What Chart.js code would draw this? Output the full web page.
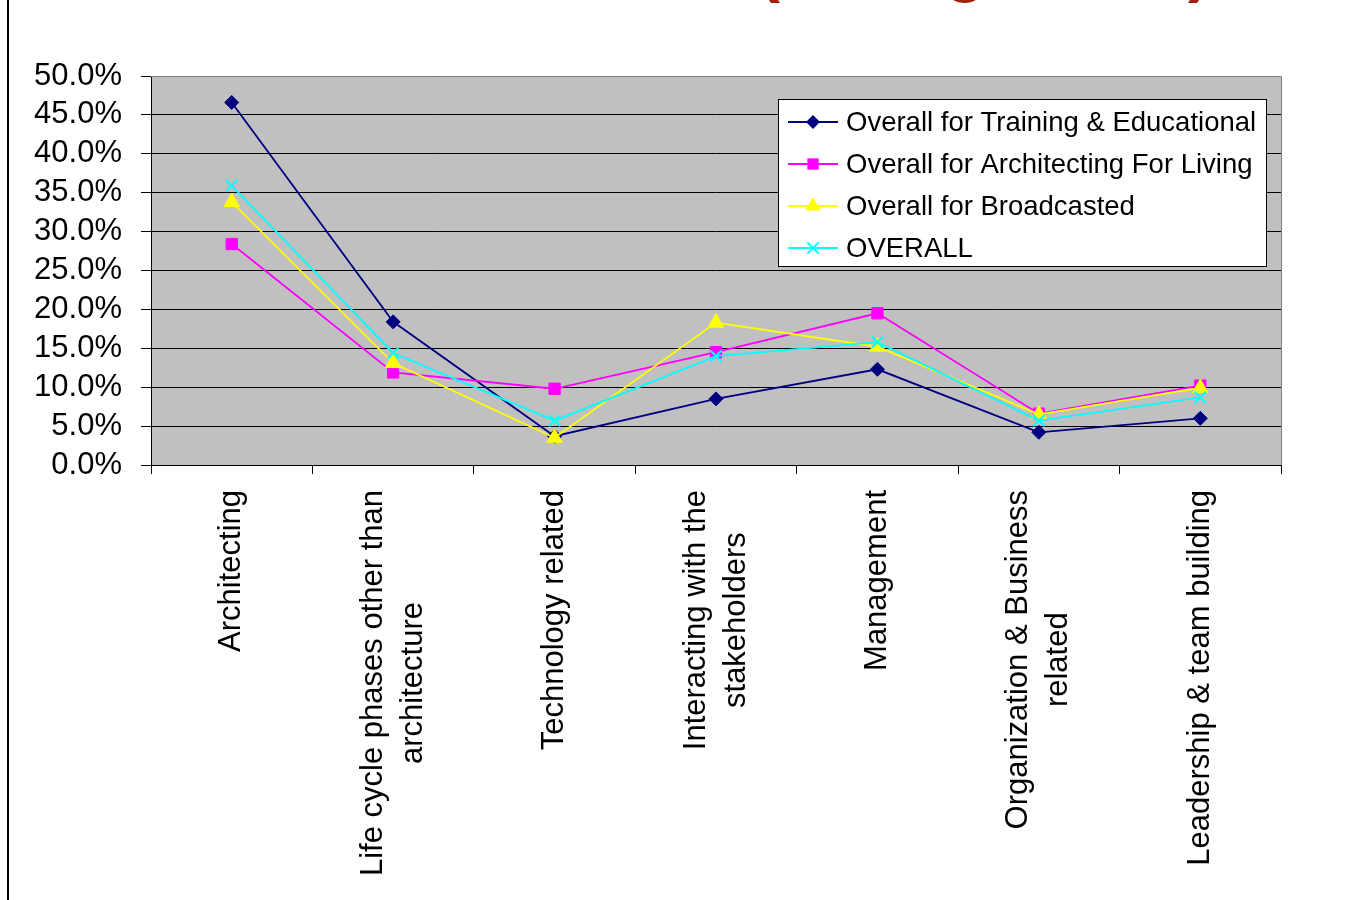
<!DOCTYPE html>
<html>
<head>
<meta charset="utf-8">
<title>Share of topics by programme</title>
<script src="https://cdn.jsdelivr.net/npm/chart.js@4/dist/chart.umd.min.js"></script>
<style>
  html, body { margin: 0; padding: 0; background: #ffffff; }
  #wrap { position: relative; width: 1365px; height: 900px; }
  canvas { display: block; }
</style>
</head>
<body>
<div id="wrap"><canvas id="chart" width="1365" height="900"></canvas></div>
<script>
// Category labels (each entry is a list of lines)
const categories = [
  ['Architecting'],
  ['Life cycle phases other than', 'architecture'],
  ['Technology related'],
  ['Interacting with the', 'stakeholders'],
  ['Management'],
  ['Organization & Business', 'related'],
  ['Leadership & team building']
];

// Series values, in percent
const trainingEducational = [46.6, 18.4, 3.7, 8.5, 12.3, 4.2, 6.0];
const architectingForLiving = [28.4, 11.9, 9.8, 14.5, 19.5, 6.6, 10.2];
const broadcasted = [33.8, 13.1, 3.5, 18.3, 15.2, 6.5, 9.9];
const overall = [35.9, 14.4, 5.7, 14.0, 15.8, 5.7, 8.7];

const seriesNames = [
  'Overall for Training & Educational',
  'Overall for Architecting For Living',
  'Overall for Broadcasted',
  'OVERALL'
];

// Axis range and step (percent)
const yMin = 0;
const yMax = 50;
const yStep = 5;

const FONT = '"Liberation Sans", Arial, Helvetica, sans-serif';

function makeSeries(label, data, color, style, radius, order) {
  return {
    label: label,
    data: data,
    borderColor: color,
    backgroundColor: color,
    pointBackgroundColor: color,
    pointBorderColor: color,
    pointStyle: style,
    pointRadius: radius,
    pointHoverRadius: radius,
    pointBorderWidth: style === 'crossRot' ? 2 : 1,
    borderWidth: 1.8,
    tension: 0,
    fill: false,
    order: order
  };
}

// Small marker painter used by the in-plot legend
function drawMarker(ctx, style, x, y, r, color) {
  ctx.save();
  ctx.fillStyle = color;
  ctx.strokeStyle = color;
  ctx.lineWidth = 2;
  ctx.beginPath();
  if (style === 'rectRot') {
    ctx.moveTo(x, y - r); ctx.lineTo(x + r, y); ctx.lineTo(x, y + r); ctx.lineTo(x - r, y);
    ctx.closePath(); ctx.fill();
  } else if (style === 'rect') {
    const s = r * Math.SQRT1_2;
    ctx.rect(x - s, y - s, 2 * s, 2 * s); ctx.fill();
  } else if (style === 'triangle') {
    ctx.moveTo(x, y - r);
    ctx.lineTo(x + r * Math.sin(2 * Math.PI / 3), y - r * Math.cos(2 * Math.PI / 3));
    ctx.lineTo(x + r * Math.sin(4 * Math.PI / 3), y - r * Math.cos(4 * Math.PI / 3));
    ctx.closePath(); ctx.fill();
  } else if (style === 'crossRot') {
    const d = r * Math.SQRT1_2;
    ctx.moveTo(x - d, y - d); ctx.lineTo(x + d, y + d);
    ctx.moveTo(x + d, y - d); ctx.lineTo(x - d, y + d);
    ctx.stroke();
  }
  ctx.restore();
}

const plotDecor = {
  id: 'plotDecor',
  beforeDraw(chart) {
    const { ctx, chartArea: a } = chart;
    ctx.save();
    ctx.fillStyle = '#C0C0C0';
    ctx.fillRect(a.left, a.top, a.right - a.left, a.bottom - a.top);
    ctx.restore();
  },
  afterDraw(chart) {
    const { ctx, chartArea: a } = chart;
    ctx.save();

    // Plot frame (top and right edges)
    ctx.strokeStyle = '#808080';
    ctx.lineWidth = 1;
    ctx.beginPath();
    ctx.moveTo(a.left, a.top + 0.5); ctx.lineTo(a.right + 0.5, a.top + 0.5);
    ctx.lineTo(a.right + 0.5, a.bottom);
    ctx.stroke();

    // Slide rule on the left
    ctx.fillStyle = '#000000';
    ctx.fillRect(7, 0, 2, 900);

    // Slide heading, running off the top edge
    ctx.fillStyle = '#A3200B';
    ctx.font = 'bold 66px ' + FONT;
    ctx.textBaseline = 'alphabetic';
    ctx.textAlign = 'left';
    ctx.fillText('(', 758, -11);
    ctx.fillText('g', 945, -11);
    ctx.fillText(')', 1188, -11);

    // Vertical category labels under the axis
    const xs = chart.scales.x;
    const fontSize = 31;
    const lineH = 40;
    const topY = 490;
    ctx.fillStyle = '#000000';
    ctx.font = fontSize + 'px ' + FONT;
    ctx.textAlign = 'center';
    ctx.textBaseline = 'middle';
    categories.forEach((lines, i) => {
      const cx = xs.getPixelForValue(i);
      const maxW = Math.max(...lines.map(t => ctx.measureText(t).width));
      const cy = topY + maxW / 2;
      lines.forEach((t, j) => {
        const lx = cx + (j - (lines.length - 1) / 2) * lineH;
        ctx.save();
        ctx.translate(lx, cy);
        ctx.rotate(-Math.PI / 2);
        ctx.fillText(t, 0, 0);
        ctx.restore();
      });
    });

    // Legend box inside the plot
    const box = { x: 778.5, y: 99.5, w: 488, h: 167 };
    ctx.fillStyle = '#FFFFFF';
    ctx.fillRect(box.x, box.y, box.w, box.h);
    ctx.strokeStyle = '#000000';
    ctx.lineWidth = 1;
    ctx.strokeRect(box.x, box.y, box.w, box.h);
    ctx.font = '27.5px ' + FONT;
    ctx.textAlign = 'left';
    ctx.textBaseline = 'middle';
    chart.data.datasets.forEach((ds, i) => {
      const y = 122 + i * 42;
      ctx.strokeStyle = ds.borderColor;
      ctx.lineWidth = 1.8;
      ctx.beginPath();
      ctx.moveTo(788, y); ctx.lineTo(838, y);
      ctx.stroke();
      drawMarker(ctx, ds.pointStyle, 813, y, ds.pointRadius, ds.borderColor);
      ctx.fillStyle = '#000000';
      ctx.fillText(ds.label, 846, y + 1);
    });

    ctx.restore();
  }
};

new Chart(document.getElementById('chart'), {
  type: 'line',
  data: {
    labels: categories.map(c => c.join(' ')),
    datasets: [
      makeSeries(seriesNames[0], trainingEducational, '#000080', 'rectRot', 7, 3),
      makeSeries(seriesNames[1], architectingForLiving, '#FF00FF', 'rect', 8, 2),
      makeSeries(seriesNames[2], broadcasted, '#FFFF00', 'triangle', 9, 1),
      makeSeries(seriesNames[3], overall, '#00FFFF', 'crossRot', 8, 0)
    ]
  },
  options: {
    responsive: false,
    devicePixelRatio: 1,
    animation: false,
    layout: { padding: { top: 76, right: 84, left: 0, bottom: 0 } },
    plugins: {
      legend: { display: false },
      tooltip: { enabled: false },
      title: { display: false }
    },
    scales: {
      x: {
        type: 'category',
        offset: true,
        grid: {
          offset: true,
          display: true,
          drawOnChartArea: false,
          drawTicks: true,
          tickLength: 9,
          tickColor: '#000000',
          color: '#000000'
        },
        border: { display: true, color: '#000000', width: 1 },
        ticks: { display: false },
        afterFit(scale) { scale.height = 435; }
      },
      y: {
        min: yMin,
        max: yMax,
        ticks: {
          stepSize: yStep,
          autoSkip: false,
          color: '#000000',
          padding: 19,
          font: { family: FONT, size: 31 },
          callback: v => v.toFixed(1) + '%'
        },
        grid: {
          color: '#000000',
          lineWidth: 1,
          drawTicks: true,
          tickLength: 10,
          tickColor: '#000000'
        },
        border: { display: true, color: '#000000', width: 1 },
        afterFit(scale) { scale.width = 151; }
      }
    }
  },
  plugins: [plotDecor]
});
</script>
</body>
</html>
